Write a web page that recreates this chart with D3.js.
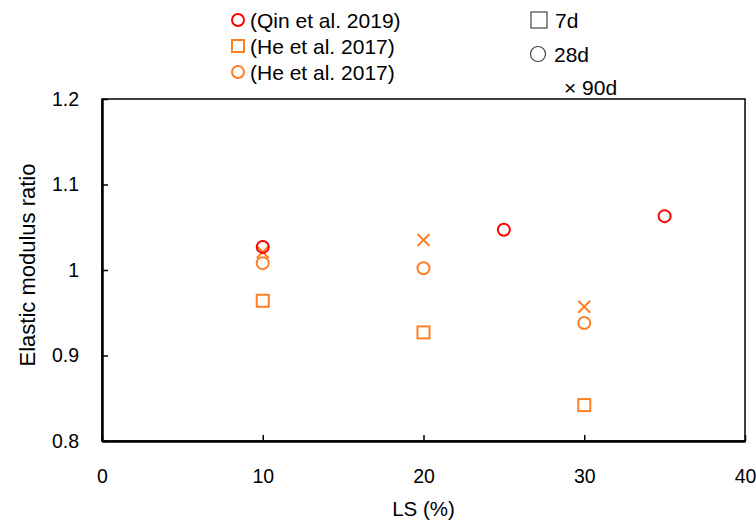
<html>
  <head>
    <script src="https://cdn.jsdelivr.net/npm/d3@7"></script>
    <style>
body { margin: 0; background: #fff; }
text { font-family: "Liberation Sans", sans-serif; fill: #000; }
    </style>
  </head>
  <body>
    <script>

var xTicks = [0, 10, 20, 30, 40],
    yTicks = [0.8, 0.9, 1.0, 1.1, 1.2];

// Qin et al. 2019, 28d
var qinLS = [10, 25, 35],
    qin28 = [1.027, 1.047, 1.063];

// He et al. 2017
var heLS = [10, 20, 30],
    he7 = [0.964, 0.927, 0.842],
    he28 = [1.008, 1.002, 0.938],
    he90 = [1.021, 1.035, 0.957];

var red = "#FF0000", orange = "#FF7F27";

var w = 756, h = 520;

var x = d3.scaleLinear().domain([0, 40]).range([102, 745]),
    y = d3.scaleLinear().domain([0.8, 1.2]).range([441, 99]);

var svg = d3.select("body").append("svg")
    .attr("width", w)
    .attr("height", h);

// frame
svg.append("rect")
    .attr("x", x(0)).attr("y", y(1.2))
    .attr("width", x(40) - x(0)).attr("height", y(0.8) - y(1.2))
    .attr("fill", "none").attr("stroke", "#000").attr("stroke-width", 1.5);

var xAxis = svg.append("g")
    .attr("transform", "translate(0," + y(0.8) + ")")
    .call(d3.axisBottom(x).tickValues(xTicks).tickSizeInner(-6).tickSizeOuter(0).tickPadding(28));

var yAxis = svg.append("g")
    .attr("transform", "translate(" + x(0) + ",0)")
    .call(d3.axisLeft(y).tickValues(yTicks).tickSizeInner(-6).tickSizeOuter(0).tickPadding(23)
      .tickFormat(function(d) { return d3.format("")(+d.toFixed(1)); }));

[xAxis, yAxis].forEach(function(a) {
  a.select(".domain").attr("stroke", "#000").attr("stroke-width", 2.5);
  a.selectAll(".tick line").attr("stroke", "#000").attr("stroke-width", 1.5);
  a.selectAll(".tick text").attr("font-size", 19.5).attr("font-family", "Liberation Sans, sans-serif").attr("fill", "#000");
});

svg.append("text")
    .attr("x", (x(0) + x(40)) / 2).attr("y", 516)
    .attr("text-anchor", "middle").attr("font-size", 20.5)
    .text("LS (%)");

svg.append("text")
    .attr("transform", "translate(35,265) rotate(-90)")
    .attr("text-anchor", "middle").attr("font-size", 22)
    .text("Elastic modulus ratio");

// markers
function circles(xs, ys, color) {
  svg.append("g").selectAll("circle")
      .data(xs)
    .enter().append("circle")
      .attr("cx", function(d) { return x(d); })
      .attr("cy", function(d, i) { return y(ys[i]); })
      .attr("r", 6)
      .attr("fill", "none").attr("stroke", color).attr("stroke-width", 2);
}

function squares(xs, ys, color) {
  svg.append("g").selectAll("rect")
      .data(xs)
    .enter().append("rect")
      .attr("x", function(d) { return x(d) - 6; })
      .attr("y", function(d, i) { return y(ys[i]) - 6; })
      .attr("width", 12).attr("height", 12)
      .attr("fill", "none").attr("stroke", color).attr("stroke-width", 2);
}

function crosses(xs, ys, color) {
  svg.append("g").selectAll("path")
      .data(xs)
    .enter().append("path")
      .attr("d", function(d, i) {
        var cx = x(d), cy = y(ys[i]), s = 6;
        return "M" + (cx - s) + "," + (cy - s) + "L" + (cx + s) + "," + (cy + s)
          + "M" + (cx - s) + "," + (cy + s) + "L" + (cx + s) + "," + (cy - s);
      })
      .attr("fill", "none").attr("stroke", color).attr("stroke-width", 2);
}

crosses(heLS, he90, orange);
squares(heLS, he7, orange);
circles(heLS, he28, orange);
circles(qinLS, qin28, red);

// legend: sources
var leg = svg.append("g");
var legItems = [
  {label: "(Qin et al. 2019)", color: red, shape: "circle"},
  {label: "(He et al. 2017)", color: orange, shape: "square"},
  {label: "(He et al. 2017)", color: orange, shape: "circle"}
];
legItems.forEach(function(d, i) {
  var cy = 20 + i * 26;
  if (d.shape === "circle")
    leg.append("circle").attr("cx", 238).attr("cy", cy).attr("r", 6)
      .attr("fill", "none").attr("stroke", d.color).attr("stroke-width", 2);
  else
    leg.append("rect").attr("x", 232).attr("y", cy - 6).attr("width", 12).attr("height", 12)
      .attr("fill", "none").attr("stroke", d.color).attr("stroke-width", 2);
  leg.append("text").attr("x", 250).attr("y", cy + 7.5).attr("font-size", 21).text(d.label);
});

// legend: ages
var leg2 = svg.append("g");
leg2.append("rect").attr("x", 531).attr("y", 12).attr("width", 16).attr("height", 16)
    .attr("fill", "none").attr("stroke", "#444").attr("stroke-width", 1.2);
leg2.append("text").attr("x", 555).attr("y", 28).attr("font-size", 21).text("7d");
leg2.append("circle").attr("cx", 538).attr("cy", 54).attr("r", 7.5)
    .attr("fill", "none").attr("stroke", "#444").attr("stroke-width", 1.2);
leg2.append("text").attr("x", 554).attr("y", 62).attr("font-size", 21).text("28d");
leg2.append("text").attr("x", 564).attr("y", 95).attr("font-size", 21).text("× 90d");

    </script>
  </body>
</html>
